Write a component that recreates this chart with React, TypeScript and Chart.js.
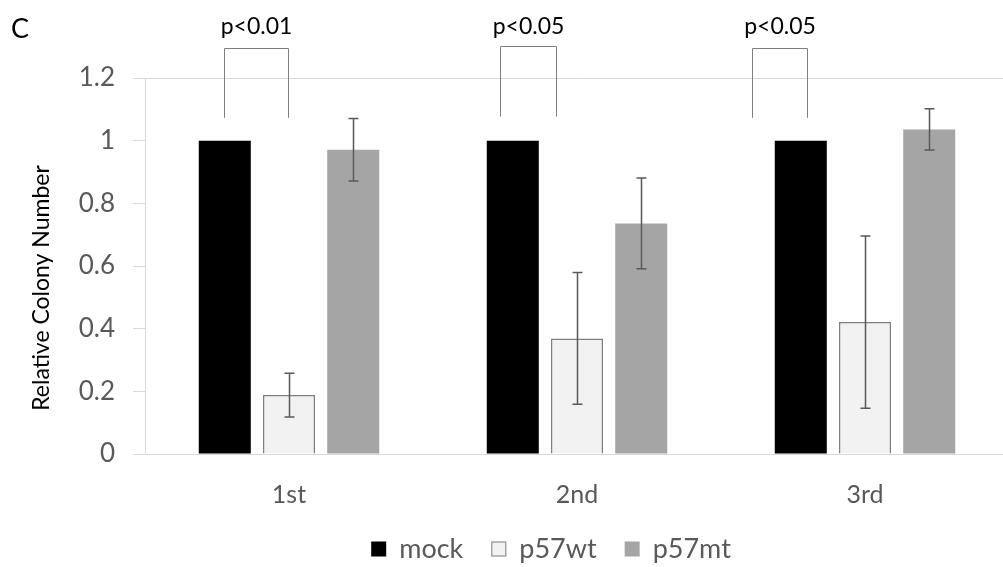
import React, { useEffect, useRef } from 'react';
import { Chart, registerables } from 'chart.js';

Chart.register(...registerables);

const categories = ['1st', '2nd', '3rd'];
const seriesNames = ['mock', 'p57wt', 'p57mt'];
const mockValues = [1, 1, 1];
const wtValues = [0.188, 0.369, 0.421];
const mtValues = [0.971, 0.736, 1.036];
const mockErrors = [0, 0, 0];
const wtErrors = [0.07, 0.21, 0.275];
const mtErrors = [0.1, 0.145, 0.066];
const yMin = 0;
const yMax = 1.2;
const yStep = 0.2;
const pLabels = ['p<0.01', 'p<0.05', 'p<0.05'];
const bracketLeft = [-0.227, 0.733, 1.606];
const bracketRight = [-0.005, 0.927, 1.797];
const bracketTop = [1.295, 1.302, 1.295];
const bracketBottom = [1.073, 1.077, 1.073];
const pLabelY = [1.34, 1.342, 1.34];
const yTitle = 'Relative Colony Number';
const panelLabel = 'C';

const FONT = 'Lato';
const errorsBySeries = [mockErrors, wtErrors, mtErrors];

const errorBarPlugin = {
  id: 'errorBars',
  afterDatasetsDraw(chart: any) {
    const ctx = chart.ctx;
    const y = chart.scales.y;
    ctx.save();
    ctx.strokeStyle = '#595959';
    ctx.lineWidth = 1.5;
    chart.data.datasets.forEach((ds: any, i: number) => {
      const meta = chart.getDatasetMeta(i);
      const errs = errorsBySeries[i];
      meta.data.forEach((bar: any, j: number) => {
        const e = errs[j];
        if (!e) return;
        const v = ds.data[j];
        const top = y.getPixelForValue(v + e);
        const bot = y.getPixelForValue(v - e);
        const x = Math.round(bar.x) + 0.5;
        ctx.beginPath();
        ctx.moveTo(x, top);
        ctx.lineTo(x, bot);
        ctx.moveTo(x - 5, top);
        ctx.lineTo(x + 5, top);
        ctx.moveTo(x - 5, bot);
        ctx.lineTo(x + 5, bot);
        ctx.stroke();
      });
    });
    ctx.restore();
  },
};

const annotationPlugin = {
  id: 'annotations',
  afterDraw(chart: any) {
    const ctx = chart.ctx;
    const xs = chart.scales.x;
    const ys = chart.scales.y;
    ctx.save();
    // significance brackets
    ctx.strokeStyle = '#7f7f7f';
    ctx.lineWidth = 1;
    pLabels.forEach((lab, k) => {
      const x1 = Math.round(xs.getPixelForValue(bracketLeft[k])) + 0.5;
      const x2 = Math.round(xs.getPixelForValue(bracketRight[k])) + 0.5;
      const yt = Math.round(ys.getPixelForValue(bracketTop[k])) + 0.5;
      const yb = ys.getPixelForValue(bracketBottom[k]);
      ctx.beginPath();
      ctx.moveTo(x1, yb);
      ctx.lineTo(x1, yt);
      ctx.lineTo(x2, yt);
      ctx.lineTo(x2, yb);
      ctx.stroke();
      ctx.fillStyle = '#000';
      ctx.font = `23px ${FONT}`;
      ctx.textAlign = 'center';
      ctx.textBaseline = 'alphabetic';
      ctx.fillText(lab, (x1 + x2) / 2, ys.getPixelForValue(pLabelY[k]));
    });
    // panel label
    ctx.fillStyle = '#000';
    ctx.font = `27px ${FONT}`;
    ctx.textAlign = 'left';
    ctx.textBaseline = 'alphabetic';
    ctx.fillText(panelLabel, 11, 38);
    // y title
    ctx.save();
    ctx.translate(42, 288);
    ctx.rotate(-Math.PI / 2);
    ctx.font = `23px ${FONT}`;
    ctx.textAlign = 'center';
    ctx.textBaseline = 'middle';
    ctx.fillText(yTitle, 0, 0);
    ctx.restore();
    // legend
    ctx.font = `27px ${FONT}`;
    const box = 15, gap = 13, itemGap = 28;
    const items = chart.data.datasets.map((ds: any) => ({
      text: ds.label,
      w: ctx.measureText(ds.label).width,
      fill: ds.backgroundColor,
      stroke: ds.borderColor,
      bw: ds.borderWidth,
    }));
    const total =
      items.reduce((s: number, it: any) => s + box + gap + it.w, 0) + itemGap * (items.length - 1);
    let x = 551 - total / 2;
    const cy = 549;
    items.forEach((it: any) => {
      ctx.fillStyle = it.fill;
      ctx.fillRect(x, cy - box / 2, box, box);
      if (it.bw) {
        ctx.strokeStyle = it.stroke;
        ctx.lineWidth = 1;
        ctx.strokeRect(x + 0.5, cy - box / 2 + 0.5, box - 1, box - 1);
      }
      ctx.fillStyle = '#595959';
      ctx.textAlign = 'left';
      ctx.textBaseline = 'middle';
      ctx.fillText(it.text, x + box + gap, cy);
      x += box + gap + it.w + itemGap;
    });
    ctx.restore();
  },
};

export default function App() {
  const ref = useRef<HTMLCanvasElement>(null);
  useEffect(() => {
    if (!ref.current) return;
    const chart = new Chart(ref.current, {
      type: 'bar',
      data: {
        labels: categories,
        datasets: [
          {
            label: seriesNames[0],
            data: mockValues,
            backgroundColor: '#000000',
            borderWidth: 0,
          },
          {
            label: seriesNames[1],
            data: wtValues,
            backgroundColor: '#f2f2f2',
            borderColor: '#7f7f7f',
            borderWidth: 1.5,
          },
          {
            label: seriesNames[2],
            data: mtValues,
            backgroundColor: '#a5a5a5',
            borderWidth: 0,
          },
        ],
      },
      options: {
        animation: false,
        responsive: false,
        devicePixelRatio: 1,
        categoryPercentage: 0.669,
        barPercentage: 0.81,
        layout: { padding: { left: 10, right: 3, top: 78, bottom: 53 } },
        plugins: {
          legend: { display: false },
          tooltip: { enabled: false },
        },
        scales: {
          x: {
            grid: { display: false, drawTicks: false },
            border: { display: true, color: '#d9d9d9', width: 1 },
            ticks: { font: { family: FONT, size: 25 }, color: '#595959', padding: 26 },
            afterFit: (s: any) => {
              s.height = 60;
            },
          },
          y: {
            min: yMin,
            max: yMax,
            ticks: {
              stepSize: yStep,
              font: { family: FONT, size: 26 },
              color: '#595959',
              padding: 18,
              callback: (v: any) => String(Math.round(Number(v) * 10) / 10),
            },
            grid: {
              color: (c: any) =>
                c.tick && (Math.abs(c.tick.value - yMin) < 1e-6 || Math.abs(c.tick.value - yMax) < 1e-6)
                  ? '#d9d9d9'
                  : 'rgba(0,0,0,0)',
              tickColor: '#d9d9d9',
              tickLength: 12,
              drawTicks: true,
            },
            border: { display: true, color: '#d9d9d9', width: 1 },
            afterFit: (s: any) => {
              s.width = 135;
            },
          },
        },
      },
      plugins: [errorBarPlugin, annotationPlugin],
    });
    return () => chart.destroy();
  }, []);
  return (
    <div
      style={{
        position: 'fixed',
        left: 0,
        top: 0,
        width: 1003,
        height: 567,
        overflow: 'hidden',
        background: '#fff',
      }}
    >
      <canvas ref={ref} width={1012} height={567} style={{ display: 'block', width: 1012, height: 567 }} />
    </div>
  );
}
